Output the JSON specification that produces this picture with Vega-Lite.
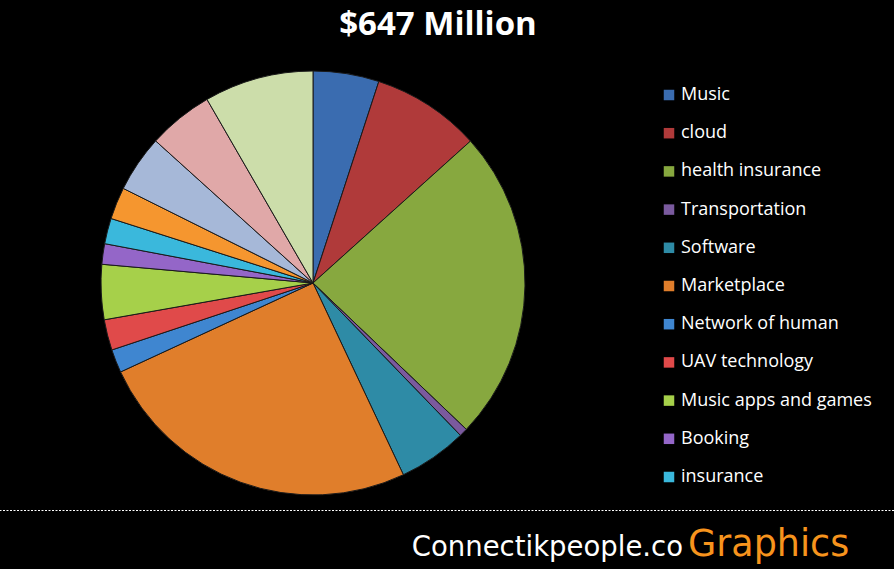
{
  "$schema": "https://vega.github.io/schema/vega-lite/v6.json",
  "width": 894,
  "height": 569,
  "autosize": {"type": "none"},
  "padding": 0,
  "background": "#000000",
  "config": {"view": {"stroke": null}},
  "title": {
    "text": "$647 Million",
    "color": "#ffffff",
    "font": "Open Sans",
    "fontWeight": "bold",
    "fontSize": 33,
    "anchor": "middle",
    "frame": "group",
    "dx": -9,
    "offset": -42
  },
  "datasets": {
    "slices": [
      {"category": "Music", "value": 32.5, "idx": 1},
      {"category": "cloud", "value": 53.7, "idx": 2},
      {"category": "health insurance", "value": 154.0, "idx": 3},
      {"category": "Transportation", "value": 4.1, "idx": 4},
      {"category": "Software", "value": 33.8, "idx": 5},
      {"category": "\u00a0Marketplace", "value": 162.5, "idx": 6},
      {"category": "Network of human", "value": 11.5, "idx": 7},
      {"category": "UAV technology", "value": 15.1, "idx": 8},
      {"category": "Music apps and games", "value": 27.1, "idx": 9},
      {"category": "Booking", "value": 10.1, "idx": 10},
      {"category": "insurance", "value": 12.6, "idx": 11},
      {"category": "Other 12", "value": 15.8, "idx": 12},
      {"category": "Other 13", "value": 28.0, "idx": 13},
      {"category": "Other 14", "value": 32.2, "idx": 14},
      {"category": "Other 15", "value": 53.9, "idx": 15}
    ],
    "footer": [
      {"text": "Connectikpeople.co", "part": "site"},
      {"text": "Graphics", "part": "brand"}
    ]
  },
  "layer": [
    {
      "data": {"name": "slices"},
      "mark": {"type": "arc", "radius": 212, "xOffset": -134, "yOffset": -1.5, "stroke": "#1a1a1a", "strokeWidth": 1},
      "encoding": {
        "theta": {"field": "value", "type": "quantitative", "stack": true},
        "order": {"field": "idx", "type": "quantitative"},
        "color": {
          "field": "category",
          "type": "nominal",
          "sort": {"field": "idx"},
          "scale": {
            "domain": ["Music", "cloud", "health insurance", "Transportation", "Software", "\u00a0Marketplace", "Network of human", "UAV technology", "Music apps and games", "Booking", "insurance", "Other 12", "Other 13", "Other 14", "Other 15"],
            "range": ["#3A6CB0", "#B03A3A", "#87A83F", "#7A5A9E", "#2E8BA6", "#E07E2B", "#3F86D0", "#E04A4A", "#A6D04A", "#9466C8", "#3AB8DC", "#F5962F", "#A6B8D8", "#E0A8A8", "#CCDDAA"]
          },
          "legend": {
            "values": ["Music", "cloud", "health insurance", "Transportation", "Software", "\u00a0Marketplace", "Network of human", "UAV technology", "Music apps and games", "Booking", "insurance"],
            "title": null,
            "orient": "none",
            "legendX": 660,
            "legendY": 86,
            "symbolType": "square",
            "symbolSize": 110,
            "symbolStrokeWidth": 0,
            "labelColor": "#ffffff",
            "labelFont": "Open Sans",
            "labelFontSize": 18,
            "labelOffset": 3,
            "rowPadding": 20.2,
            "labelLimit": 300
          }
        }
      }
    },
    {
      "data": {"values": [{"sep": "line"}]},
      "mark": {"type": "rule", "color": "#ffffff", "strokeWidth": 1, "strokeDash": [2, 1.5]},
      "encoding": {"y": {"value": 510.5}}
    },
    {
      "data": {"name": "footer"},
      "transform": [{"filter": "datum.part === 'site'"}],
      "mark": {"type": "text", "color": "#ffffff", "font": "DejaVu Sans", "fontSize": 27.5, "align": "right", "baseline": "alphabetic", "dx": 236, "dy": 271},
      "encoding": {"text": {"field": "text"}}
    },
    {
      "data": {"name": "footer"},
      "transform": [{"filter": "datum.part === 'brand'"}],
      "mark": {"type": "text", "color": "#F7941D", "font": "DejaVu Sans", "fontSize": 36.5, "align": "left", "baseline": "alphabetic", "dx": 241, "dy": 271},
      "encoding": {"text": {"field": "text"}}
    }
  ]
}
